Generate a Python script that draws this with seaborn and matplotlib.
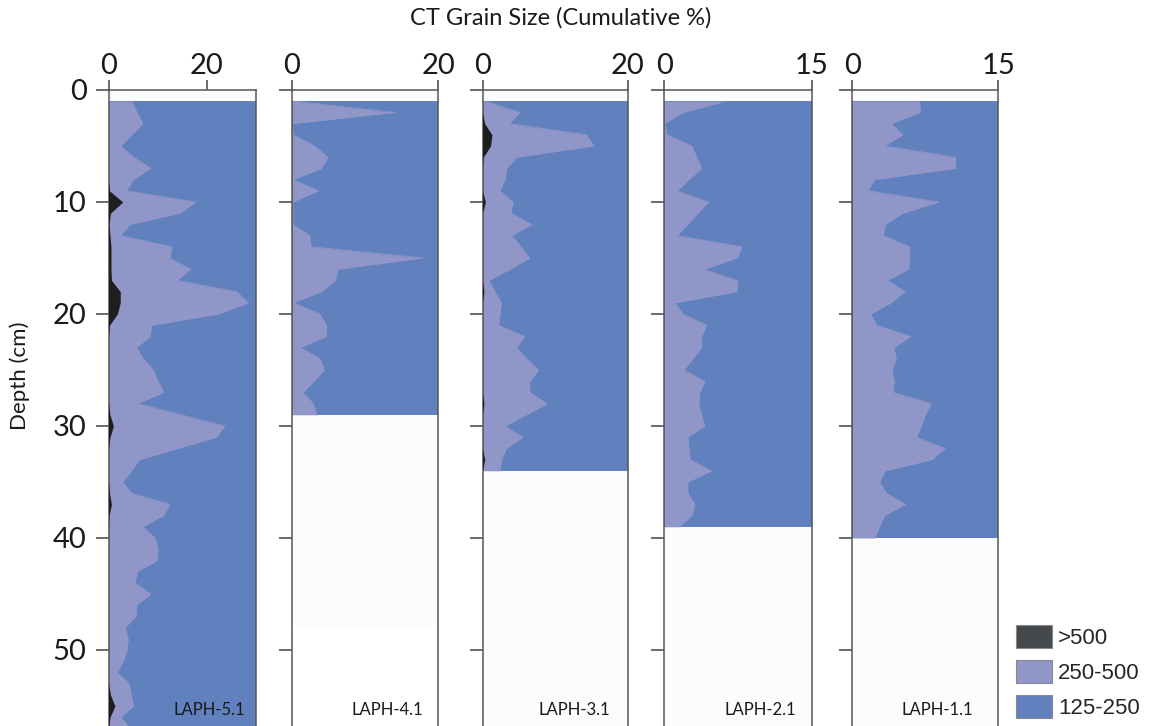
import numpy as np
import pandas as pd
import seaborn as sns
import matplotlib.pyplot as plt
from matplotlib.patches import Patch

# cores, left to right
cores = ["LAPH-5.1", "LAPH-4.1", "LAPH-3.1", "LAPH-2.1", "LAPH-1.1"]
x_max = [30, 20, 20, 15, 15]
x_ticks = [[0, 20], [0, 20], [0, 20], [0, 15], [0, 15]]
depth_ticks = [0, 10, 20, 30, 40, 50]

# cumulative % of grains > 250 um (edge of the 250-500 fill), one value per cm from 1 cm
cum250_laph51 = [4.7, 5.8, 7.0, 4.7, 2.5, 5.1, 8.6, 5.1, 3.6, 17.8,
                 14.6, 4.4, 2.5, 12.9, 12.5, 16.7, 14.0, 26.1, 28.5, 22.4,
                 8.8, 8.5, 5.7, 7.1, 9.1, 10.1, 11.2, 5.9, 14.8, 23.7,
                 22.0, 14.2, 6.3, 4.7, 2.9, 4.7, 12.5, 11.2, 7.0, 9.5,
                 10.1, 9.9, 5.9, 5.4, 8.6, 5.7, 5.6, 3.4, 4.0, 3.8,
                 3.0, 1.8, 4.2, 4.6, 5.1, 2.5, 4.4]
cum250_laph41 = [0.2, 14.0, 0.1, 0.1, 3.1, 4.9, 4.0, 0.1, 3.6, 0.1,
                 0.1, 0.1, 2.4, 2.6, 17.9, 6.3, 5.9, 4.0, 0.2, 3.8,
                 4.7, 4.7, 1.1, 3.8, 4.4, 3.0, 1.5, 2.9, 3.4]
cum250_laph31 = [0.3, 5.1, 3.7, 14.3, 15.3, 4.7, 3.3, 3.1, 2.4, 4.2,
                 3.9, 6.8, 4.0, 5.3, 6.5, 3.8, 0.9, 1.7, 2.6, 2.4,
                 2.2, 5.8, 4.7, 6.1, 7.7, 6.5, 6.5, 8.9, 6.0, 3.1,
                 5.5, 3.3, 2.6, 2.4]
cum250_laph21 = [6.2, 1.9, 0.0, 0.3, 2.8, 3.3, 3.8, 2.5, 1.3, 4.5,
                 3.4, 2.4, 1.3, 7.9, 7.4, 4.0, 7.4, 7.4, 1.1, 1.9,
                 4.3, 3.8, 3.8, 2.9, 2.0, 4.1, 3.6, 3.5, 3.8, 4.1,
                 2.4, 2.5, 2.6, 4.8, 2.4, 2.4, 3.1, 2.8, 1.5]
cum250_laph11 = [6.9, 7.0, 4.0, 5.2, 3.3, 10.6, 10.6, 2.3, 1.6, 8.9,
                 5.2, 3.4, 3.2, 5.9, 5.9, 5.8, 3.6, 5.4, 4.0, 1.9,
                 2.5, 6.0, 4.3, 4.5, 4.1, 4.3, 4.2, 8.1, 7.5, 7.1,
                 6.6, 9.5, 8.2, 3.4, 2.8, 3.5, 5.5, 3.3, 2.8, 2.3]

# cumulative % of grains > 500 um (black fill)
cum500_laph51 = [0, 0, 0, 0, 0, 0, 0, 0, 0.2, 2.9,
                 0.4, 0.1, 0.3, 0.5, 0.5, 0.5, 0.6, 2.4, 2.4, 1.8,
                 0.2, 0, 0, 0, 0, 0, 0, 0, 0.3, 1.0,
                 0.3, 0, 0, 0, 0, 0.2, 0.6, 0.1, 0, 0,
                 0, 0, 0, 0, 0, 0, 0, 0, 0, 0,
                 0, 0, 0, 0.4, 1.3, 0.3, 0]
cum500_laph31 = [0, 0, 0.3, 1.3, 1.1, 0.1, 0, 0, 0, 0.4,
                 0, 0, 0, 0, 0, 0, 0, 0.2, 0, 0,
                 0, 0, 0, 0, 0, 0, 0, 0.2, 0, 0,
                 0, 0, 0.3, 0]

cum250 = [cum250_laph51, cum250_laph41, cum250_laph31, cum250_laph21, cum250_laph11]
cum500 = [cum500_laph51, None, cum500_laph31, None, None]

c_fine = "#6080be"
c_med = "#9196c8"
c_coarse = "#1e1e1e"

W, H = 1149, 726
left_px = [108.5, 292, 482.5, 664.3, 852.3]
width_px = [147.2, 146.3, 145.5, 147.4, 146.0]
label_px = [209, 387.5, 574, 760, 937]
top_px = 90
px_per_cm = 11.2
depth_bottom = (H - top_px) / px_per_cm
box_bottom = [None, 47.9, None, None, None]

sns.set_theme(style="white")
plt.rcParams["font.family"] = ["Lato", "DejaVu Sans"]

fig = plt.figure(figsize=(W / 100, H / 100), dpi=100)

for i, core in enumerate(cores):
    ax = fig.add_axes([left_px[i] / W, 0, width_px[i] / W, 1 - top_px / H])
    ax.set_facecolor("#fbfcfe")
    vals = np.array(cum250[i])
    depth = np.arange(1, len(vals) + 1)
    if box_bottom[i] is not None:
        ax.axhspan(box_bottom[i], depth_bottom + 5, color="white", zorder=0, lw=0)

    ax.fill_betweenx(depth, 0, x_max[i], color=c_fine, lw=0, zorder=1)
    ax.fill_betweenx(depth, 0, vals, color=c_med, lw=0, zorder=2)
    df = pd.DataFrame({"depth": depth, "cum": vals})
    sns.lineplot(data=df, x="cum", y="depth", orient="y", estimator=None, sort=False,
                 color=c_med, lw=0.6, ax=ax, zorder=2)
    if cum500[i] is not None:
        ax.fill_betweenx(depth, 0, cum500[i], color=c_coarse, lw=0, zorder=3)

    ax.set_xlim(0, x_max[i])
    ax.set_ylim(depth_bottom, 0)
    ax.set_xlabel("")
    ax.set_ylabel("")
    ax.xaxis.tick_top()
    ax.set_xticks(x_ticks[i])
    ax.set_yticks(depth_ticks)
    ax.tick_params(axis="x", top=True, bottom=False, direction="out", length=7.2, width=1.1,
                   pad=1, labelsize=21, color="#444444", labelcolor="#1a1a1a")
    ax.tick_params(axis="y", left=True, direction="out", length=9.7, width=1.1,
                   pad=6, labelsize=21, color="#444444", labelcolor="#1a1a1a")
    if i > 0:
        ax.set_yticklabels([])
    for side in ["left", "right", "top"]:
        ax.spines[side].set_color("#555555")
        ax.spines[side].set_linewidth(1.1)
    ax.spines["bottom"].set_visible(False)

    fig.text(label_px[i] / W, 1 - 710 / H, core, ha="center", va="center",
             fontsize=12, color="#1a1a1a")

fig.text(561 / W, 1 - 18 / H, "CT Grain Size (Cumulative %)", ha="center", va="center",
         fontsize=17, color="#1a1a1a")
fig.text(20 / W, 1 - 376 / H, "Depth (cm)", rotation=90, ha="center", va="center",
         fontsize=16, color="#1a1a1a")

handles = [Patch(facecolor="#45494b", edgecolor="#8a8a8a", lw=0.8),
           Patch(facecolor=c_med, edgecolor="#8a8a8a", lw=0.8),
           Patch(facecolor=c_fine, edgecolor="#8a8a8a", lw=0.8)]
fig.legend(handles, [">500", "250-500", "125-250"], loc="upper left",
           bbox_to_anchor=(1016 / W, 1 - 625 / H), frameon=False,
           prop={"family": "Liberation Sans", "size": 16},
           handlelength=1.6, handleheight=1.2, handletextpad=0.3,
           labelspacing=0.5, borderpad=0, borderaxespad=0)

fig.savefig("out.png", dpi=100)
